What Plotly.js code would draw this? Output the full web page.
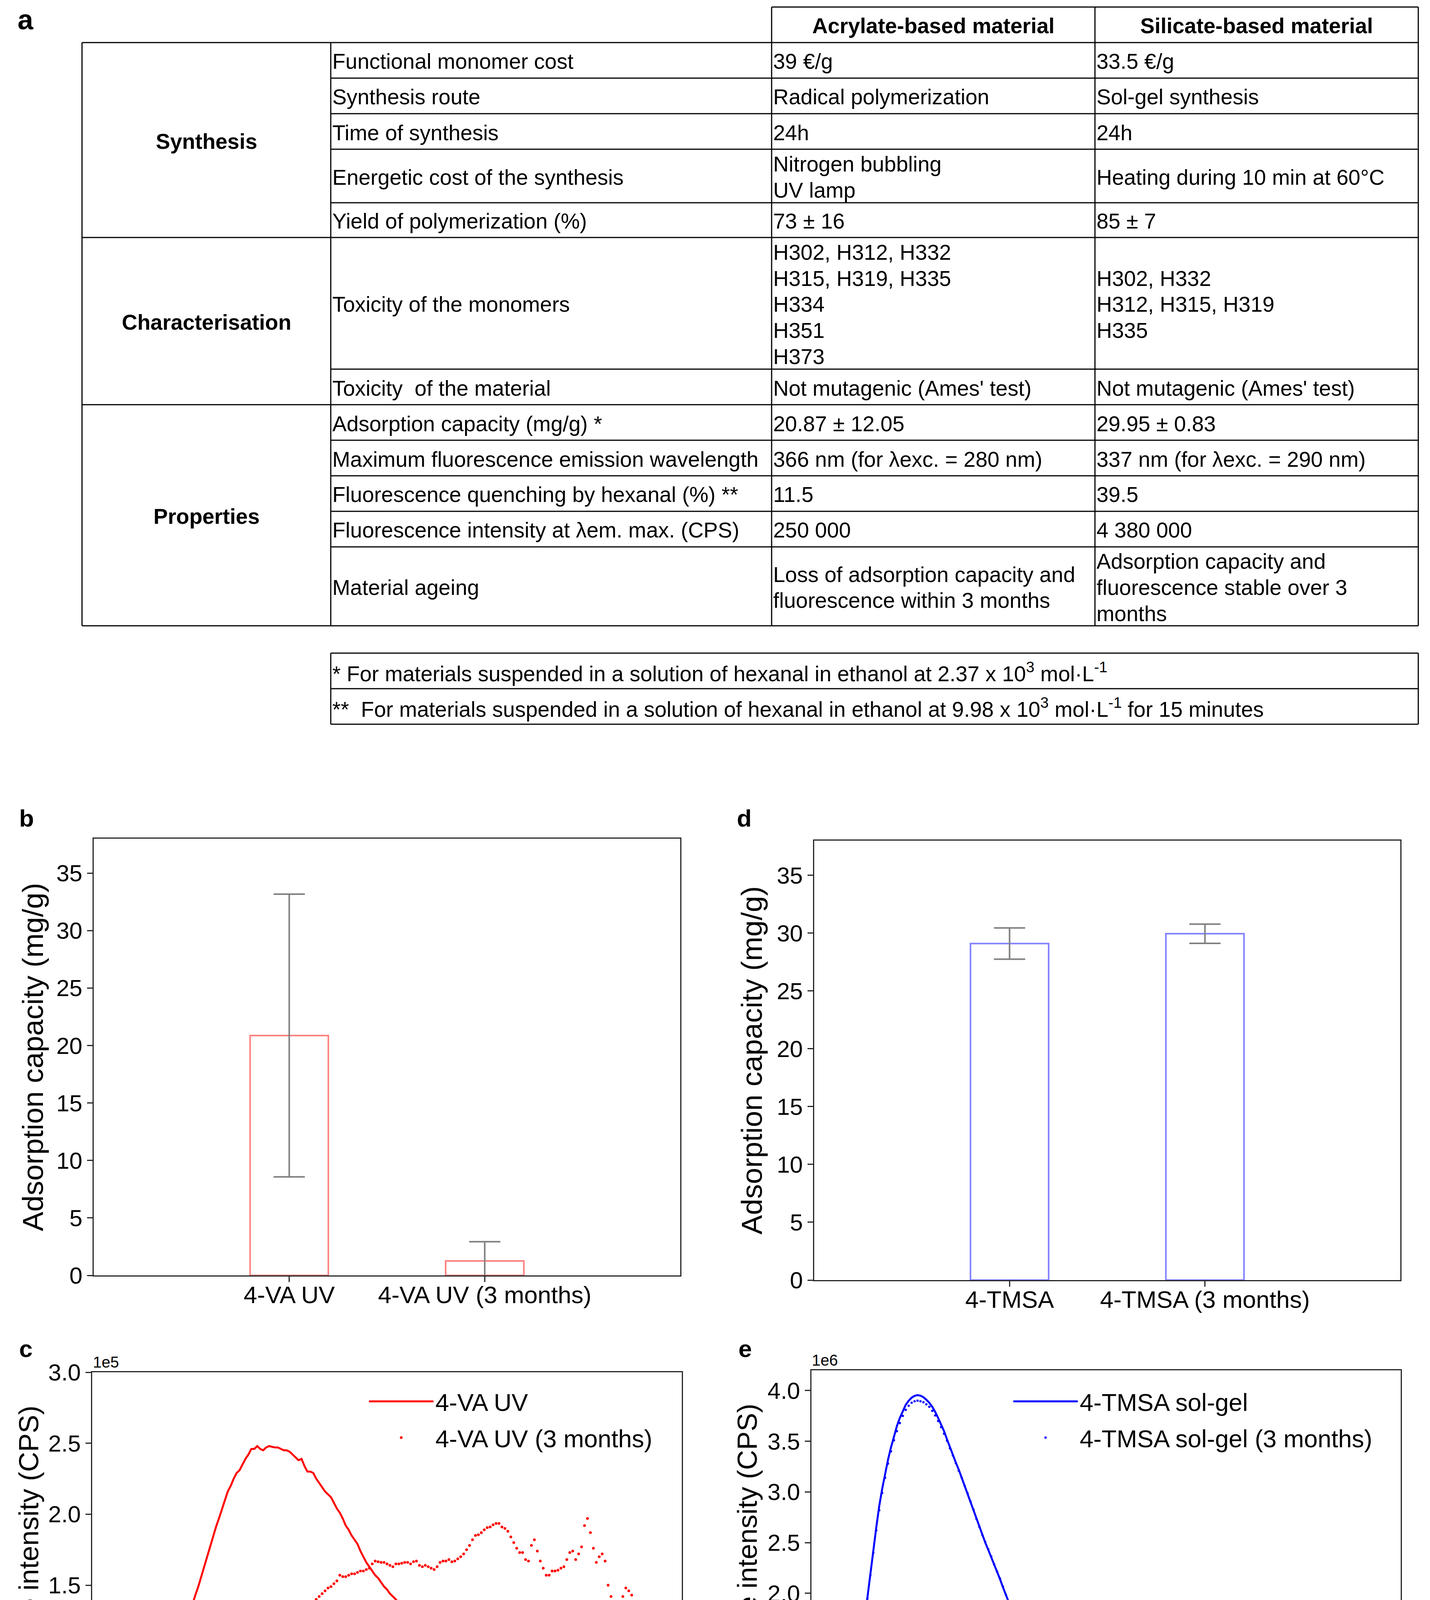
<!DOCTYPE html>
<html>
<head>
<meta charset="utf-8">
<script src="https://cdn.plot.ly/plotly-3.0.1.min.js"></script>
<style>html,body{margin:0;padding:0;background:#fff;}</style>
</head>
<body>
<div id="chart"></div>
<script>
// ---------------- DATA ----------------
const tableHeader = ['Acrylate-based material', 'Silicate-based material'];
const tableGroups = ['Synthesis', 'Characterisation', 'Properties'];
const groupRowCounts = [5, 2, 5];
const tableProperties = [
  'Functional monomer cost', 'Synthesis route', 'Time of synthesis',
  'Energetic cost of the synthesis', 'Yield of polymerization (%)',
  'Toxicity of the monomers', 'Toxicity  of the material',
  'Adsorption capacity (mg/g) *', 'Maximum fluorescence emission wavelength',
  'Fluorescence quenching by hexanal (%) **', 'Fluorescence intensity at λem. max. (CPS)',
  'Material ageing'
];
const acrylateValues = [
  '39 €/g', 'Radical polymerization', '24h', 'Nitrogen bubbling\nUV lamp', '73 ± 16',
  'H302, H312, H332\nH315, H319, H335\nH334\nH351\nH373', "Not mutagenic (Ames' test)",
  '20.87 ± 12.05', '366 nm (for λexc. = 280 nm)', '11.5', '250 000',
  'Loss of adsorption capacity and\nfluorescence within 3 months'
];
const silicateValues = [
  '33.5 €/g', 'Sol-gel synthesis', '24h', 'Heating during 10 min at 60°C', '85 ± 7',
  'H302, H332\nH312, H315, H319\nH335', "Not mutagenic (Ames' test)",
  '29.95 ± 0.83', '337 nm (for λexc. = 290 nm)', '39.5', '4 380 000',
  'Adsorption capacity and\nfluorescence stable over 3\nmonths'
];
const tableFootnotes = [
  '* For materials suspended in a solution of hexanal in ethanol at 2.37 x 10<sup>3</sup> mol·L<sup>-1</sup>',
  '**  For materials suspended in a solution of hexanal in ethanol at 9.98 x 10<sup>3</sup> mol·L<sup>-1</sup> for 15 minutes'
];

const acrylateCategories = ['4-VA UV', '4-VA UV (3 months)'];
const acrylateAdsorption = [20.87, 1.26];
const acrylateAdsorptionErr = [12.3, 1.67];
const silicateCategories = ['4-TMSA', '4-TMSA (3 months)'];
const silicateAdsorption = [29.1, 29.95];
const silicateAdsorptionErr = [1.35, 0.83];

// spectra: wavelength 300..500 nm, step 1 nm
const wavelengthStart = 300;
const wavelengthStep = 1;
// panel c, intensity in units of 1e5 CPS
const vaUV = [
 0.033,0.034,0.035,0.035,0.036,0.038,0.038,0.040,0.042,0.045,
 0.048,0.052,0.058,0.065,0.073,0.085,0.10,0.125,0.15,0.18,
 0.22,0.27,0.34,0.42,0.53,0.64,0.75,0.86,0.96,1.04,
 1.10,1.17,1.23,1.30,1.37,1.43,1.49,1.56,1.63,1.70,
 1.78,1.85,1.91,1.97,2.03,2.09,2.16,2.20,2.25,2.29,
 2.31,2.35,2.39,2.42,2.46,2.46,2.48,2.46,2.45,2.47,
 2.48,2.475,2.47,2.47,2.46,2.45,2.45,2.44,2.42,2.40,
 2.38,2.39,2.34,2.30,2.30,2.29,2.25,2.22,2.19,2.16,
 2.14,2.12,2.08,2.04,2.01,1.97,1.92,1.89,1.85,1.82,
 1.79,1.74,1.70,1.66,1.63,1.60,1.57,1.55,1.52,1.49,
 1.47,1.44,1.42,1.40,1.37,1.35,1.34,1.30,1.27,1.26,
 1.25,1.24,1.22,1.20,1.18,1.17,1.16,1.14,1.13,1.13,
 1.12,1.10,1.11,1.09,1.10,1.08,1.085,1.09,1.085,1.08,
 1.09,1.08,1.075,1.08,1.085,1.08,1.085,1.08,1.075,1.06,
 1.04,1.02,1.005,0.99,0.97,0.94,0.93,0.925,0.93,0.96,
 0.97,0.955,0.93,0.90,0.875,0.85,0.86,0.865,0.86,0.86,
 0.85,0.86,0.89,0.905,0.89,0.865,0.87,0.94,0.985,0.95,
 0.90,0.86,0.83,0.87,0.85,0.80,0.75,0.72,0.715,0.715,
 0.725,0.745,0.735,0.72,0.71,0.69,0.67,0.655,0.645,0.64,
 0.635,0.645,0.665,0.66,0.635,0.61,0.595,0.585,0.578,0.578,
 0.58
];
const vaUV3months = [
 0.005,0.005,0.005,0.005,0.006,0.006,0.006,0.007,0.007,0.008,
 0.009,0.010,0.011,0.012,0.013,0.014,0.016,0.017,0.019,0.025,
 0.032,0.04,0.048,0.055,0.065,0.075,0.088,0.10,0.11,0.12,
 0.13,0.14,0.155,0.165,0.18,0.19,0.205,0.22,0.245,0.265,
 0.29,0.31,0.33,0.37,0.40,0.44,0.49,0.53,0.57,0.61,
 0.66,0.71,0.76,0.80,0.82,0.86,0.89,0.93,0.94,0.94,
 0.97,1.01,1.05,1.06,1.10,1.13,1.16,1.20,1.25,1.27,
 1.29,1.31,1.32,1.33,1.35,1.37,1.40,1.42,1.44,1.46,
 1.48,1.49,1.51,1.53,1.57,1.56,1.56,1.57,1.58,1.58,
 1.59,1.60,1.60,1.61,1.62,1.65,1.67,1.665,1.66,1.66,
 1.65,1.64,1.63,1.65,1.65,1.655,1.66,1.66,1.65,1.665,
 1.67,1.64,1.63,1.64,1.63,1.62,1.61,1.63,1.66,1.67,
 1.67,1.68,1.665,1.67,1.685,1.70,1.72,1.75,1.78,1.82,
 1.85,1.855,1.87,1.89,1.905,1.91,1.925,1.935,1.935,1.91,
 1.90,1.88,1.84,1.80,1.76,1.73,1.73,1.68,1.67,1.78,
 1.82,1.74,1.67,1.62,1.57,1.57,1.60,1.60,1.605,1.62,
 1.63,1.68,1.73,1.74,1.68,1.72,1.77,1.92,1.97,1.87,
 1.76,1.66,1.70,1.72,1.67,1.50,1.42,1.36,1.35,1.36,
 1.42,1.48,1.46,1.43,1.38,1.33,1.29,1.26,1.235,1.23,
 1.25,1.30,1.33,1.34,1.30,1.25,1.24,1.19,1.15,1.135,
 1.13
];
// panel e, intensity in units of 1e6 CPS
const tmsaSolGel = [
 0.025,0.03,0.036,0.045,0.058,0.078,0.10,0.13,0.175,0.23,
 0.30,0.40,0.52,0.66,0.84,1.04,1.27,1.50,1.74,1.97,
 2.20,2.42,2.65,2.86,3.03,3.18,3.32,3.44,3.55,3.65,
 3.73,3.80,3.86,3.90,3.93,3.948,3.955,3.95,3.935,3.91,
 3.88,3.84,3.79,3.73,3.67,3.60,3.52,3.44,3.37,3.29,
 3.22,3.14,3.06,2.98,2.90,2.82,2.73,2.65,2.57,2.50,
 2.43,2.36,2.28,2.21,2.14,2.06,1.98,1.91,1.85,1.79,
 1.73,1.66,1.60,1.54,1.48,1.42,1.37,1.32,1.27,1.22,
 1.18,1.14,1.10,1.05,1.01,0.97,0.93,0.895,0.86,0.825,
 0.79,0.76,0.73,0.70,0.675,0.65,0.625,0.60,0.58,0.56,
 0.545,0.53,0.51,0.495,0.48,0.465,0.45,0.44,0.425,0.41,
 0.40,0.385,0.375,0.365,0.355,0.345,0.335,0.325,0.315,0.305,
 0.295,0.287,0.28,0.272,0.265,0.258,0.25,0.243,0.237,0.23,
 0.224,0.218,0.212,0.207,0.202,0.197,0.192,0.187,0.182,0.178,
 0.173,0.169,0.165,0.16,0.156,0.152,0.148,0.144,0.14,0.136,
 0.133,0.13,0.126,0.122,0.119,0.116,0.113,0.111,0.109,0.107,
 0.105,0.103,0.101,0.099,0.097,0.097,0.098,0.097,0.094,0.09,
 0.087,0.084,0.081,0.078,0.076,0.074,0.072,0.07,0.068,0.066,
 0.064,0.063,0.062,0.061,0.06,0.059,0.058,0.057,0.056,0.055,
 0.054,0.053,0.052,0.051,0.05,0.049,0.048,0.046,0.044,0.042,
 0.04
];
const tmsaSolGel3months = [
 0.02,0.025,0.032,0.042,0.055,0.075,0.098,0.128,0.17,0.225,
 0.295,0.39,0.51,0.65,0.83,1.02,1.25,1.48,1.72,1.95,
 2.18,2.40,2.62,2.82,2.99,3.14,3.28,3.40,3.51,3.60,
 3.68,3.75,3.81,3.85,3.88,3.895,3.90,3.895,3.885,3.865,
 3.84,3.80,3.755,3.70,3.64,3.575,3.505,3.43,3.36,3.285,
 3.21,3.14,3.06,2.985,2.905,2.825,2.735,2.655,2.575,2.505,
 2.435,2.365,2.285,2.215,2.145,2.065,1.985,1.915,1.855,1.795,
 1.735,1.665,1.605,1.545,1.485,1.425,1.375,1.325,1.275,1.225,
 1.185,1.145,1.105,1.055,1.015,0.975,0.935,0.90,0.865,0.83,
 0.795,0.765,0.735,0.705,0.68,0.655,0.63,0.607,0.587,0.567,
 0.552,0.538,0.52,0.505,0.49,0.476,0.461,0.451,0.436,0.422,
 0.412,0.397,0.387,0.377,0.367,0.357,0.347,0.337,0.327,0.317,
 0.307,0.299,0.292,0.284,0.277,0.27,0.262,0.255,0.249,0.242,
 0.236,0.23,0.224,0.219,0.214,0.209,0.204,0.199,0.194,0.19,
 0.185,0.181,0.177,0.172,0.168,0.164,0.16,0.156,0.152,0.148,
 0.145,0.142,0.138,0.134,0.131,0.128,0.125,0.123,0.121,0.119,
 0.117,0.115,0.113,0.111,0.109,0.108,0.109,0.108,0.106,0.102,
 0.099,0.096,0.093,0.09,0.088,0.086,0.084,0.082,0.08,0.078,
 0.076,0.075,0.074,0.073,0.072,0.071,0.07,0.069,0.068,0.067,
 0.066,0.065,0.064,0.063,0.062,0.061,0.06,0.058,0.056,0.054,
 0.052
];

// ---------------- LAYOUT GEOMETRY (pixels) ----------------
const W = 3662, H = 4801;
const FONT = 'Liberation Sans, Arial, Helvetica, sans-serif';
const px = v => v / W;
const py = v => 1 - v / H;

// table geometry
const colX = [210, 847, 1976, 2804, 3632];
const headerTop = 18;
const rowBounds = [109, 200, 291, 382, 519, 608, 945, 1036, 1127, 1218, 1309, 1400, 1602];
const footBounds = [1672, 1763, 1854];
const lineGap = 66.6;
const tableFont = 55;

const shapes = [];
const annotations = [];
function hline(y, x0, x1) {
  shapes.push({type: 'line', xref: 'paper', yref: 'paper', x0: px(x0), x1: px(x1), y0: py(y), y1: py(y),
    line: {color: '#000', width: 3}});
}
function vline(x, y0, y1) {
  shapes.push({type: 'line', xref: 'paper', yref: 'paper', x0: px(x), x1: px(x), y0: py(y0), y1: py(y1),
    line: {color: '#000', width: 3}});
}
function txt(text, x, y, opts) {
  annotations.push(Object.assign({text: text, xref: 'paper', yref: 'paper', x: px(x), y: py(y),
    showarrow: false, xanchor: 'left', yanchor: 'middle', borderpad: 0,
    font: {family: FONT, size: tableFont, color: '#000'}}, opts || {}));
}
function cellLines(text, xLeft, yTop, yBottom) {
  const lines = text.split('\n');
  const c = (yTop + yBottom) / 2 + 3;
  lines.forEach((ln, i) => txt(ln, xLeft + 3, c + (i - (lines.length - 1) / 2) * lineGap));
}

// header
hline(headerTop, colX[2], colX[4]);
[2, 3, 4].forEach(i => vline(colX[i], headerTop, rowBounds[0]));
tableHeader.forEach((h, i) => txt('<b>' + h + '</b>', (colX[2 + i] + colX[3 + i]) / 2, (headerTop + rowBounds[0]) / 2 + 3,
  {xanchor: 'center'}));
// outer and column lines
hline(rowBounds[0], colX[0], colX[4]);
colX.forEach(x => vline(x, rowBounds[0], rowBounds[rowBounds.length - 1]));
// rows
let rowIdx = 0;
tableGroups.forEach((g, gi) => {
  const gTop = rowBounds[rowIdx];
  const gBot = rowBounds[rowIdx + groupRowCounts[gi]];
  txt('<b>' + g + '</b>', (colX[0] + colX[1]) / 2, (gTop + gBot) / 2 + 3, {xanchor: 'center'});
  for (let r = 0; r < groupRowCounts[gi]; r++) {
    const i = rowIdx + r;
    const t = rowBounds[i], b = rowBounds[i + 1];
    cellLines(tableProperties[i], colX[1], t, b);
    cellLines(acrylateValues[i], colX[2], t, b);
    cellLines(silicateValues[i], colX[3], t, b);
    if (r < groupRowCounts[gi] - 1) hline(b, colX[1], colX[4]);
  }
  hline(gBot, colX[0], colX[4]);
  rowIdx += groupRowCounts[gi];
});
// footnotes
footBounds.forEach(y => hline(y, colX[1], colX[4]));
vline(colX[1], footBounds[0], footBounds[2]);
vline(colX[4], footBounds[0], footBounds[2]);
tableFootnotes.forEach((f, i) => txt(f, colX[1] + 3, (footBounds[i] + footBounds[i + 1]) / 2 + 3));

// panel letters
const letterFont = {family: FONT, size: 62, color: '#000'};
txt('<b>a</b>', 44, 50, {font: {family: FONT, size: 72, color: '#000'}});
txt('<b>b</b>', 48, 2095, {font: letterFont});
txt('<b>d</b>', 1886, 2095, {font: letterFont});
txt('<b>c</b>', 48, 3452, {font: letterFont});
txt('<b>e</b>', 1890, 3452, {font: letterFont});
// offset (exponent) labels
txt('1e5', 237, 3487, {font: {family: FONT, size: 40, color: '#000'}});
txt('1e6', 2078, 3482, {font: {family: FONT, size: 40, color: '#000'}});

// panel frames [left, right, top, bottom] in px
const frameB = [240, 1742, 2147, 3265];
const frameD = [2085, 3586, 2152, 3277];
const frameC = [236, 1746, 3513, 4603];
const frameE = [2078, 3587, 3508, 4598];

const tickFont = {family: FONT, size: 60, color: '#000'};
const catTickFont = {family: FONT, size: 62, color: '#000'};
const barTitleFont = {family: FONT, size: 75, color: '#000'};
const titleFont = {family: FONT, size: 71, color: '#000'};
function baseAxis(extra) {
  return Object.assign({
    showline: true, mirror: true, linecolor: '#262626', linewidth: 3,
    ticks: 'outside', ticklen: 14, tickwidth: 3, tickcolor: '#262626',
    showgrid: false, zeroline: false, tickfont: tickFont, automargin: false, fixedrange: true
  }, extra);
}
function xdom(f) { return [px(f[0]), px(f[1])]; }
function ydom(f) { return [py(f[3]), py(f[2])]; }

const data = [
  {type: 'bar', x: acrylateCategories, y: acrylateAdsorption, width: 0.4, xaxis: 'x', yaxis: 'y',
   marker: {color: 'rgba(255,255,255,0)', line: {color: '#ff8080', width: 4}},
   error_y: {type: 'data', array: acrylateAdsorptionErr, visible: true, color: '#808080', thickness: 4, width: 40},
   showlegend: false, hoverinfo: 'skip'},
  {type: 'bar', x: silicateCategories, y: silicateAdsorption, width: 0.4, xaxis: 'x2', yaxis: 'y2',
   marker: {color: 'rgba(255,255,255,0)', line: {color: '#8080ff', width: 4}},
   error_y: {type: 'data', array: silicateAdsorptionErr, visible: true, color: '#808080', thickness: 4, width: 40},
   showlegend: false, hoverinfo: 'skip'},
  {type: 'scatter', mode: 'lines', name: '4-VA UV', x0: wavelengthStart, dx: wavelengthStep, y: vaUV,
   xaxis: 'x3', yaxis: 'y3', line: {color: '#ff0000', width: 5}, legend: 'legend', legendgroup: 'c1'},
  {type: 'scatter', mode: 'markers', name: '4-VA UV (3 months)', x0: wavelengthStart, dx: wavelengthStep, y: vaUV3months,
   xaxis: 'x3', yaxis: 'y3', marker: {color: '#ff0000', size: 7}, legend: 'legend', legendgroup: 'c2'},
  {type: 'scatter', mode: 'lines', name: '4-TMSA sol-gel', x0: wavelengthStart, dx: wavelengthStep, y: tmsaSolGel,
   xaxis: 'x4', yaxis: 'y4', line: {color: '#0000ff', width: 5}, legend: 'legend2', legendgroup: 'e1'},
  {type: 'scatter', mode: 'markers', name: '4-TMSA sol-gel (3 months)', x0: wavelengthStart, dx: wavelengthStep, y: tmsaSolGel3months,
   xaxis: 'x4', yaxis: 'y4', marker: {color: '#0000ff', size: 6}, legend: 'legend2', legendgroup: 'e2'}
];

const layout = {
  width: W, height: H, margin: {l: 0, r: 0, t: 0, b: 0},
  paper_bgcolor: '#fff', plot_bgcolor: '#fff', font: {family: FONT, color: '#000'},
  showlegend: true,
  xaxis: baseAxis({domain: xdom(frameB), type: 'category', range: [-1, 2], anchor: 'y', tickfont: catTickFont, ticklabelstandoff: -20}),
  yaxis: baseAxis({domain: ydom(frameB), range: [0, 38], dtick: 5, tick0: 0, anchor: 'x',
    title: {text: 'Adsorption capacity (mg/g)', font: barTitleFont, standoff: 10}}),
  xaxis2: baseAxis({domain: xdom(frameD), type: 'category', range: [-1, 2], anchor: 'y2', tickfont: catTickFont, ticklabelstandoff: -20}),
  yaxis2: baseAxis({domain: ydom(frameD), range: [0, 38], dtick: 5, tick0: 0, anchor: 'x2',
    title: {text: 'Adsorption capacity (mg/g)', font: barTitleFont, standoff: 14}}),
  xaxis3: baseAxis({domain: xdom(frameC), range: [300, 500], dtick: 25, tick0: 300, anchor: 'y3', ticklabelstandoff: -20,
    title: {text: 'Wavelenght (nm)', font: titleFont, standoff: 17}}),
  yaxis3: baseAxis({domain: ydom(frameC), range: [0, 3], dtick: 0.5, tick0: 0, tickformat: '.1f', anchor: 'x3',
    title: {text: 'Fluorescence intensity (CPS)', font: titleFont, standoff: 2}}),
  xaxis4: baseAxis({domain: xdom(frameE), range: [300, 500], dtick: 25, tick0: 300, anchor: 'y4', ticklabelstandoff: -20,
    title: {text: 'Wavelenght (nm)', font: titleFont, standoff: 17}}),
  yaxis4: baseAxis({domain: ydom(frameE), range: [0, 4.2], dtick: 0.5, tick0: 0, tickformat: '.1f', anchor: 'x4',
    title: {text: 'Fluorescence intensity (CPS)', font: titleFont, standoff: 4}}),
  legend: {x: px(940), y: py(3540), xanchor: 'left', yanchor: 'top', bgcolor: 'rgba(0,0,0,0)',
    font: {family: FONT, size: 63, color: '#000'}, itemwidth: 165, tracegroupgap: 8},
  legend2: {x: px(2590), y: py(3540), xanchor: 'left', yanchor: 'top', bgcolor: 'rgba(0,0,0,0)',
    font: {family: FONT, size: 63, color: '#000'}, itemwidth: 165, tracegroupgap: 8},
  shapes: shapes,
  annotations: annotations
};

Plotly.newPlot('chart', data, layout, {staticPlot: true, displayModeBar: false});
</script>
</body>
</html>
